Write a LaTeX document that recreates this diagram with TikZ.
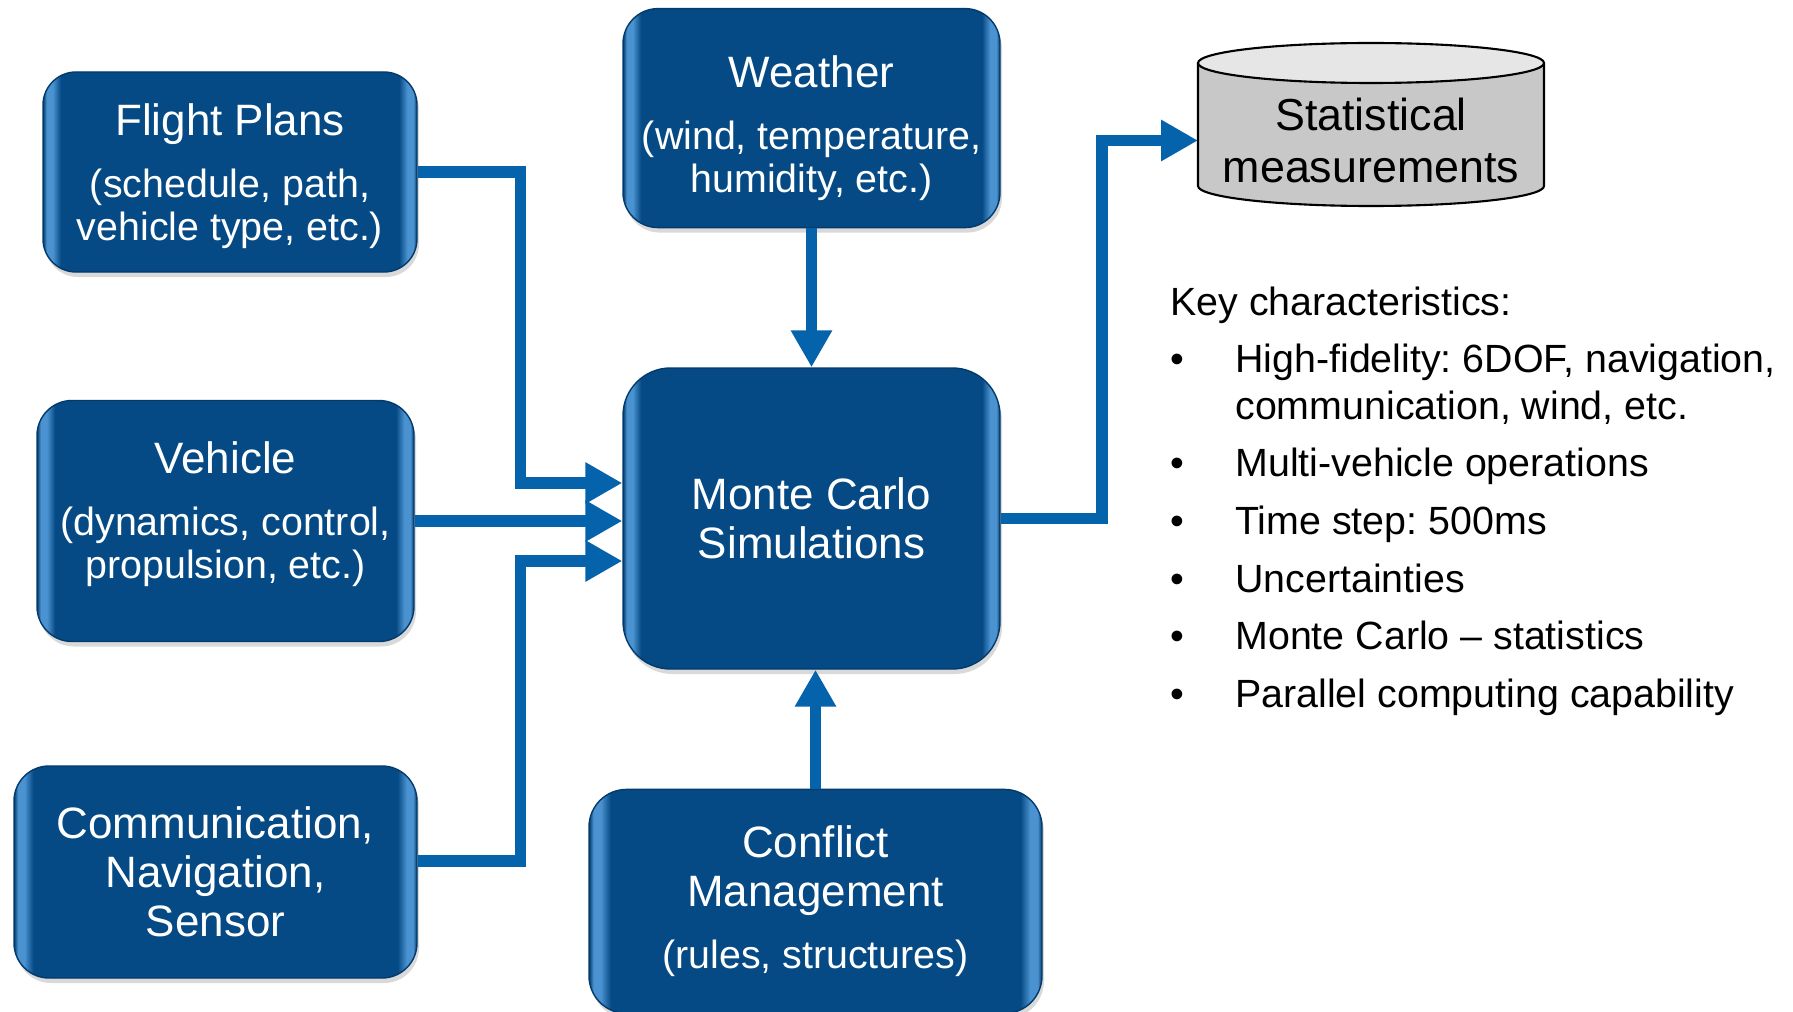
\documentclass[tikz,border=0pt]{standalone}
\usepackage{fontspec}
\setmainfont{Liberation Sans}
\usepackage{xcolor}
\usetikzlibrary{arrows.meta,positioning,shadows,backgrounds}
\frenchspacing

\definecolor{boxblue}{HTML}{054A85}
\definecolor{boxrim}{HTML}{033A6B}
\definecolor{boxlite}{HTML}{4A93D0}
\definecolor{linkblue}{HTML}{0563AC}
\definecolor{canside}{HTML}{C8C8C8}
\definecolor{cantop}{HTML}{E6E6E6}

% bevelled look of the blue blocks (light bands on the sides)
\pgfdeclarehorizontalshading{boxbevel}{100bp}{color(0bp)=(boxrim); color(25bp)=(boxrim);
  color(25.5bp)=(boxlite); color(26.3bp)=(boxlite); color(27.4bp)=(boxblue);
  color(72.6bp)=(boxblue); color(73.7bp)=(boxlite); color(74.5bp)=(boxlite);
  color(75bp)=(boxrim); color(100bp)=(boxrim)}

\newcommand\boxhead[1]{{\fontsize{25}{28}\selectfont #1}}
% invisible struts to nudge a block's text up or down
\newcommand\padtop[1]{\rule{0pt}{#1}}
\newcommand\padbot[1]{\rule[-#1]{0pt}{0pt}}

\begin{document}
\begin{tikzpicture}[
  box/.style={rectangle, draw=boxrim, line width=0.8pt, shading=boxbevel,
              rounded corners=0.7cm, text=white, align=center,
              font=\fontsize{22.4}{24.5}\selectfont,
              drop shadow={shadow xshift=0.04cm, shadow yshift=-0.1cm, opacity=0.3}},
  arr/.style={-{Triangle[length=0.74cm, width=0.78cm]}, line width=0.23cm, linkblue},
]
\useasboundingbox (0,0) rectangle (35.86,20.22);

% Inputs (left)
\node[box, minimum width=7.48cm, minimum height=4.00cm, rounded corners=0.66cm] (plans) at (4.60,16.78)
  {\boxhead{\padtop{0.79cm}Flight Plans}\\[10.8pt](schedule, path,\\vehicle type, etc.)};
\node[box, minimum width=7.54cm, minimum height=4.82cm] (vehicle) at (4.51,9.80)
  {\boxhead{Vehicle}\\[10.8pt](dynamics, control,\\propulsion, etc.)\padbot{0.45cm}};
\node[box, minimum width=8.06cm, minimum height=4.24cm] (cns) at (4.31,2.78)
  {\boxhead{Communication,}\\[3.4pt]\boxhead{Navigation,}\\[3.4pt]\boxhead{Sensor}};

% Simulation core with weather above and conflict management below
\node[box, minimum width=7.54cm, minimum height=6.02cm, rounded corners=0.95cm] (mc) at (16.23,9.85)
  {\boxhead{Monte Carlo}\\[3.4pt]\boxhead{Simulations}};
\node[box, above=2.78cm of mc, minimum width=7.54cm, minimum height=4.38cm] (weather)
  {\boxhead{\padtop{1.03cm}Weather}\\[10.8pt](wind, temperature,\\humidity, etc.)};
\node[box, below=2.38cm of mc, xshift=0.08cm, minimum width=9.06cm, minimum height=4.48cm,
      rounded corners=0.75cm] (conflict)
  {\boxhead{Conflict}\\[3.4pt]\boxhead{Management}\\[10.8pt](rules, structures)};

% Output store (cylinder drawn behind the label)
\node[minimum width=6.92cm, minimum height=2.46cm, inner sep=0pt, outer sep=0pt, align=center,
      font=\fontsize{25.5}{30}\selectfont] (stats) at (27.42,17.41) {Statistical\\measurements};
\begin{scope}[on background layer]
  \draw[line width=1.2pt, fill=canside] ([yshift=0.32cm]stats.north west)
    -- ([yshift=0.32cm]stats.south west)
    arc[start angle=180, end angle=360, x radius=3.46cm, y radius=0.4cm]
    -- ([yshift=0.32cm]stats.north east);
  \draw[line width=1.2pt, fill=cantop] ([yshift=0.32cm]stats.north) ellipse [x radius=3.46cm, y radius=0.4cm];
\end{scope}

% Key characteristics
\node[anchor=base west, inner sep=0pt, font=\fontsize{22.4}{24.5}\selectfont] (keys) at (23.40,13.92) {%
  \begin{tabular}[t]{@{}p{1.3cm}@{}l@{}}
  \multicolumn{2}{@{}l@{}}{Key characteristics:}\\[8.3pt]
  \textbullet & High-fidelity: 6DOF, navigation,\\[2pt]
              & communication, wind, etc.\\[8.3pt]
  \textbullet & Multi-vehicle operations\\[8.3pt]
  \textbullet & Time step: 500ms\\[8.3pt]
  \textbullet & Uncertainties\\[8.3pt]
  \textbullet & Monte Carlo – statistics\\[8.3pt]
  \textbullet & Parallel computing capability
  \end{tabular}};

% Arrows
\draw[arr] (plans.east) -| ([xshift=-2.04cm, yshift=0.71cm]mc.west) -- ([yshift=0.71cm]mc.west);
\draw[arr] (vehicle.east) -- (vehicle.east -| mc.west);
\draw[arr] ([yshift=0.22cm]cns.east) -| ([xshift=-2.04cm, yshift=-0.85cm]mc.west) -- ([yshift=-0.85cm]mc.west);
\draw[arr] (weather) -- (mc);
\draw[arr] (conflict.north) -- (conflict.north |- mc.south);
\draw[arr] (mc.east) -| ([xshift=-1.92cm]stats.west) -- (stats.west);

\end{tikzpicture}
\end{document}
